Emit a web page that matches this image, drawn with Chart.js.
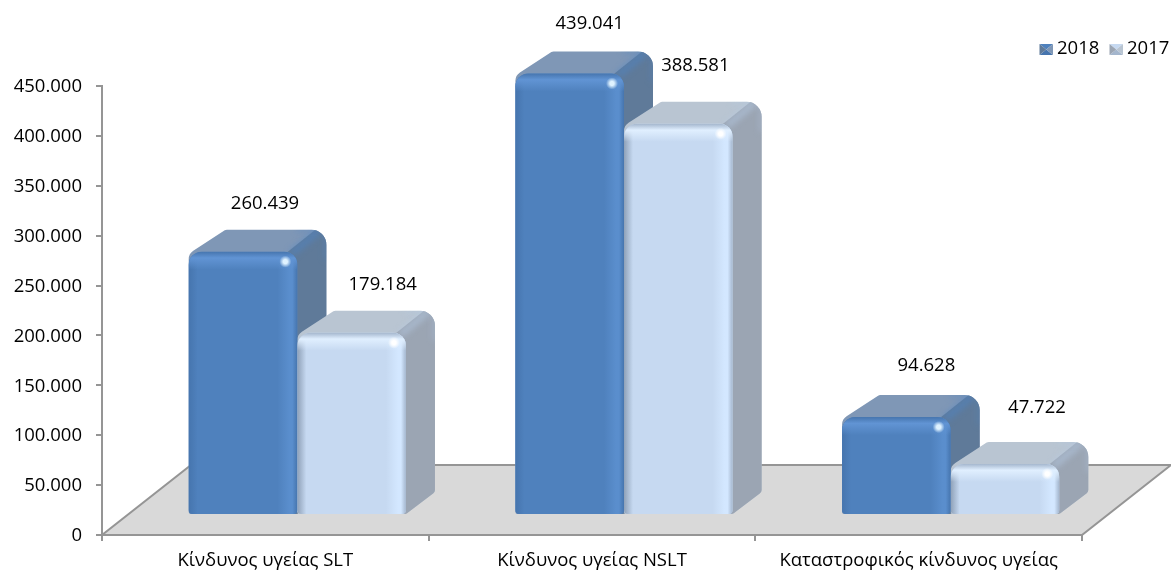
<!DOCTYPE html>
<html>
<head>
<meta charset="utf-8">
<style>
  html, body { margin: 0; padding: 0; background: #fff; }
  canvas { display: block; }
</style>
<script src="https://cdn.jsdelivr.net/npm/chart.js@4/dist/chart.umd.min.js"></script>
</head>
<body>
<canvas id="chart" width="1171" height="572"></canvas>
<script>
const categories = ['Κίνδυνος υγείας SLT', 'Κίνδυνος υγείας NSLT', 'Καταστροφικός κίνδυνος υγείας'];
const seriesNames = ['2018', '2017'];
const values2018 = [260439, 439041, 94628];
const values2017 = [179184, 388581, 47722];

// hand placed data labels in the original, offset from bar centre / bar top
const labelOffsets2018 = [[22, -48], [20, -50], [30, -51]];
const labelOffsets2017 = [[31, -48], [17, -58], [32, -56]];

const FONT = "'Open Sans', sans-serif";
const FONT_SIZE = 18.5;
const AXIS_GREY = '#959595';

// the fake 3D: bars sit on a floor, shifted from the axis plane
const SHIFT_X = 32, SHIFT_Y = -23.5;
const DEPTH_X = 29, DEPTH_Y = 22;
const FLOOR_X = 89, FLOOR_Y = 70;

const themes = [
  { front: '#4f81bd', top: '#7f97b6', side: '#5f7a99', seam: '#4f86c6', edge: '#4675ae', leftEdge: '#4675ae', light: '#6194d4', lightR: '#5a8ecd', glint: '#dff2ff' },
  { front: '#c6d9f1', top: '#b9c5d2', side: '#9ba5b3', seam: '#b5cbe6', edge: '#a4b6cd', leftEdge: '#8fa1b8', light: '#e0efff', lightR: '#d3e7ff', glint: '#ffffff' }
];

const fmt = v => String(v).replace(/\B(?=(\d{3})+$)/g, '.');

function barBox(el) {
  const x = el.x - el.width / 2 + SHIFT_X;
  return { x, y: el.y + SHIFT_Y, w: el.width, h: el.base - el.y };
}

// pts: [x, y, corner radius]
function roundedPoly(ctx, pts) {
  const n = pts.length;
  const a = pts[n - 1], b = pts[0];
  ctx.beginPath();
  ctx.moveTo((a[0] + b[0]) / 2, (a[1] + b[1]) / 2);
  for (let i = 0; i < n; i++) {
    const p = pts[i], q = pts[(i + 1) % n];
    ctx.arcTo(p[0], p[1], (p[0] + q[0]) / 2, (p[1] + q[1]) / 2, p[2]);
  }
  ctx.closePath();
}

function drawDepth(ctx, b, t) {
  const { x, y, w, h } = b;
  const bottom = y + h;
  ctx.save();
  roundedPoly(ctx, [
    [x, y + 2, 10], [x + DEPTH_X + 8, y - DEPTH_Y, 4], [x + w + DEPTH_X, y - DEPTH_Y, 15],
    [x + w + DEPTH_X, bottom - DEPTH_Y, 4], [x + w, bottom, 4], [x, bottom, 2]
  ]);
  ctx.fillStyle = t.top;
  ctx.fill();
  ctx.clip();
  // right hand side
  ctx.beginPath();
  ctx.moveTo(x + w - 12, y + 2);
  ctx.lineTo(x + w + DEPTH_X - 11, y - DEPTH_Y);
  ctx.lineTo(x + w + DEPTH_X + 4, y - DEPTH_Y);
  ctx.lineTo(x + w + DEPTH_X + 4, bottom);
  ctx.lineTo(x + w - 12, bottom);
  ctx.closePath();
  ctx.fillStyle = t.side;
  ctx.fill();
  // bluish sheen along the seam and the back edges
  ctx.filter = 'blur(3px)';
  ctx.strokeStyle = t.seam;
  ctx.lineWidth = 6;
  ctx.globalAlpha = 0.6;
  ctx.beginPath();
  ctx.moveTo(x + w - 6, y + 2);
  ctx.lineTo(x + w + DEPTH_X - 8, y - DEPTH_Y + 2);
  ctx.stroke();
  ctx.lineWidth = 4;
  ctx.globalAlpha = 0.4;
  ctx.beginPath();
  ctx.moveTo(x + w + DEPTH_X - 30, y - DEPTH_Y);
  ctx.lineTo(x + w + DEPTH_X, y - DEPTH_Y);
  ctx.lineTo(x + w + DEPTH_X, y - DEPTH_Y + 30);
  ctx.stroke();
  ctx.restore();
}

function drawBevel(ctx, b, t) {
  const { x, y, w, h } = b;
  const band = Math.min(18, h / 2);
  ctx.save();
  ctx.beginPath();
  ctx.roundRect(x, y, w, h, [13, 13, 4, 4]);
  ctx.clip();

  let g = ctx.createLinearGradient(x, 0, x + 9, 0);
  g.addColorStop(0, t.leftEdge);
  g.addColorStop(1, t.leftEdge + '00');
  ctx.fillStyle = g;
  ctx.fillRect(x, y, 9, h);

  g = ctx.createLinearGradient(x + w - 20, 0, x + w, 0);
  g.addColorStop(0, t.lightR + '00');
  g.addColorStop(0.6, t.lightR);
  g.addColorStop(0.75, t.lightR);
  g.addColorStop(1, t.edge);
  ctx.fillStyle = g;
  ctx.fillRect(x + w - 20, y, 20, h);

  g = ctx.createLinearGradient(0, y, 0, y + band);
  g.addColorStop(0, t.edge);
  g.addColorStop(0.35, t.light);
  g.addColorStop(1, t.light + '00');
  ctx.fillStyle = g;
  ctx.fillRect(x, y, w, band);

  // glint near the top right corner
  const gx = x + w - 12, gy = y + 10;
  g = ctx.createRadialGradient(gx, gy, 0, gx, gy, 6);
  g.addColorStop(0, t.glint);
  g.addColorStop(0.35, t.glint);
  g.addColorStop(1, t.glint + '00');
  ctx.fillStyle = g;
  ctx.fillRect(gx - 6, gy - 6, 12, 12);
  ctx.restore();
}

function legendIcon(ctx, x, y, t) {
  const w = 13.5, h = 11, cx = x + w / 2, cy = y + h / 2;
  const tri = (a, b, c, col) => {
    ctx.beginPath(); ctx.moveTo(...a); ctx.lineTo(...b); ctx.lineTo(...c); ctx.closePath();
    ctx.fillStyle = col; ctx.fill();
  };
  tri([x, y], [x + w, y], [cx, cy], t.front);
  tri([x, y + h], [x + w, y + h], [cx, cy], t.edge);
  tri([x, y], [x, y + h], [cx, cy], t.side);
  tri([x + w, y], [x + w, y + h], [cx, cy], t.top);
}

const fake3d = {
  id: 'fake3d',
  beforeDatasetsDraw(chart) {
    const { ctx, chartArea: a } = chart;
    // floor
    ctx.save();
    ctx.beginPath();
    ctx.moveTo(a.left, a.bottom);
    ctx.lineTo(a.right, a.bottom);
    ctx.lineTo(a.right + FLOOR_X, a.bottom - FLOOR_Y);
    ctx.lineTo(a.left + FLOOR_X, a.bottom - FLOOR_Y);
    ctx.closePath();
    ctx.fillStyle = '#d9d9d9';
    ctx.strokeStyle = AXIS_GREY;
    ctx.lineWidth = 2;
    ctx.fill();
    ctx.stroke();
    ctx.restore();
    // sides and tops go behind every front face
    [0, 1].forEach(i => {
      chart.getDatasetMeta(i).data.forEach(el => drawDepth(ctx, barBox(el), themes[i]));
    });
  },
  beforeDatasetDraw(chart) {
    chart.ctx.save();
    chart.ctx.translate(SHIFT_X, SHIFT_Y);
  },
  afterDatasetDraw(chart) {
    chart.ctx.restore();
  },
  afterDatasetsDraw(chart) {
    const { ctx } = chart;
    [0, 1].forEach(i => {
      chart.getDatasetMeta(i).data.forEach(el => drawBevel(ctx, barBox(el), themes[i]));
    });
  },
  afterDraw(chart) {
    const { ctx } = chart;
    ctx.save();
    ctx.font = FONT_SIZE + 'px ' + FONT;
    ctx.fillStyle = '#000';
    ctx.textAlign = 'center';
    ctx.textBaseline = 'middle';
    [labelOffsets2018, labelOffsets2017].forEach((offs, i) => {
      chart.getDatasetMeta(i).data.forEach((el, j) => {
        const b = barBox(el);
        ctx.fillText(fmt(chart.data.datasets[i].data[j]), b.x + b.w / 2 + offs[j][0], b.y + offs[j][1]);
      });
    });
    // legend
    ctx.textAlign = 'left';
    const iconX = [1039.5, 1109.5], textX = [1057, 1127];
    seriesNames.forEach((name, i) => {
      legendIcon(ctx, iconX[i], 44, themes[i]);
      ctx.fillStyle = '#000';
      ctx.fillText(name, textX[i], 49);
    });
    ctx.restore();
  }
};

const barOpts = {
  base: -2500, // fronts stand slightly below the zero line of the floor
  borderRadius: { topLeft: 13, topRight: 13, bottomLeft: 4, bottomRight: 4 },
  borderSkipped: false,
  borderWidth: 0,
  categoryPercentage: 0.665,
  barPercentage: 1,
  clip: false
};

new Chart(document.getElementById('chart'), {
  type: 'bar',
  data: {
    labels: categories,
    datasets: [
      { label: seriesNames[0], data: values2018, backgroundColor: themes[0].front, ...barOpts },
      { label: seriesNames[1], data: values2017, backgroundColor: themes[1].front, ...barOpts }
    ]
  },
  plugins: [fake3d],
  options: {
    responsive: false,
    animation: false,
    layout: { padding: { top: 86, right: 89, left: 0, bottom: 0 } },
    plugins: { legend: { display: false }, tooltip: { enabled: false } },
    scales: {
      x: {
        afterFit: s => { s.height = 37; },
        grid: { drawOnChartArea: false, color: AXIS_GREY, tickLength: 6, lineWidth: 2 },
        border: { color: AXIS_GREY, width: 2 },
        ticks: { color: '#000', font: { family: FONT, size: FONT_SIZE }, padding: 9, maxRotation: 0, autoSkip: false }
      },
      y: {
        min: 0,
        max: 450000,
        afterFit: s => { s.width = 102; },
        grid: { drawOnChartArea: false, color: AXIS_GREY, tickLength: 6, lineWidth: 2 },
        border: { color: AXIS_GREY, width: 2 },
        ticks: { stepSize: 50000, color: '#000', font: { family: FONT, size: FONT_SIZE }, padding: 14, labelOffset: 1, callback: v => fmt(v) }
      }
    }
  }
});
</script>
</body>
</html>
